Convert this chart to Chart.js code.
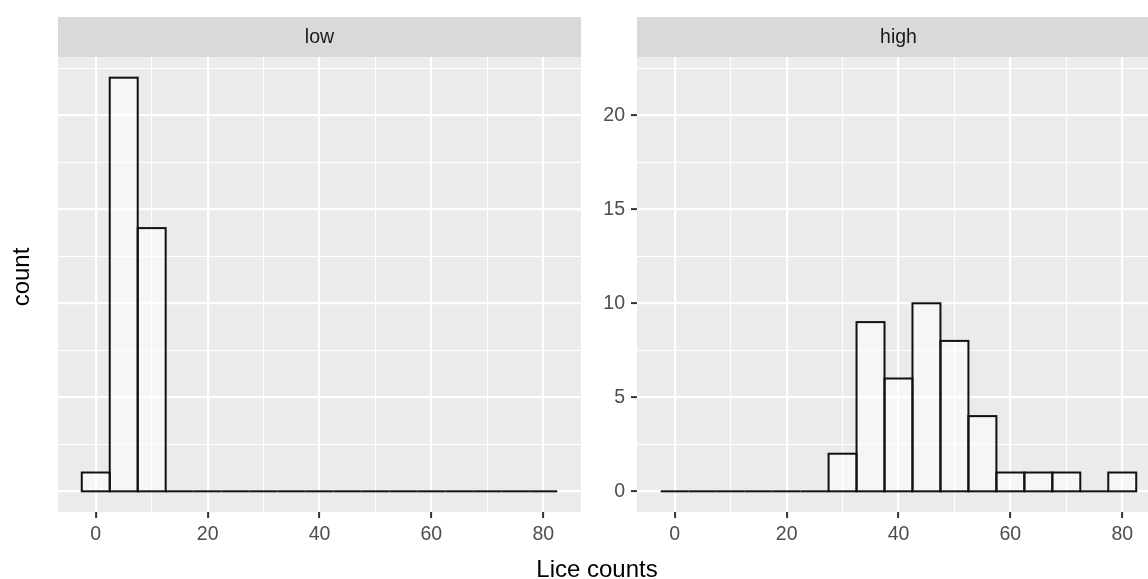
<!DOCTYPE html>
<html>
<head>
<meta charset="utf-8">
<script src="https://cdn.jsdelivr.net/npm/chart.js@4/dist/chart.umd.min.js"></script>
<style>
  html, body { margin: 0; padding: 0; background: #fff; overflow: hidden; }
  body { width: 1148px; height: 579px; position: relative; font-family: "Liberation Sans", Arial, sans-serif; }
  canvas { position: absolute; top: 0; }
  #leftChart { left: 0; }
  #rightChart { left: 590px; }
  .axis-title { position: absolute; color: #000; font-size: 24px; line-height: 24px; white-space: nowrap; text-align: center; }
  #xTitle { left: 497px; top: 557px; width: 200px; }
  #yTitle { left: -29px; top: 265px; width: 100px; transform: rotate(-90deg); }
</style>
</head>
<body>
<canvas id="leftChart" width="590" height="579"></canvas>
<canvas id="rightChart" width="590" height="579"></canvas>
<div id="xTitle" class="axis-title">Lice counts</div>
<div id="yTitle" class="axis-title">count</div>
<script>
// Histogram of lice counts, faceted by group (bins of width 5)
const binCenters = [0, 5, 10, 15, 20, 25, 30, 35, 40, 45, 50, 55, 60, 65, 70, 75, 80];
const lowCounts  = [1, 22, 14, 0, 0, 0, 0, 0, 0, 0, 0, 0, 0, 0, 0, 0, 0];
const highCounts = [0, 0, 0, 0, 0, 0, 2, 9, 6, 10, 8, 4, 1, 1, 1, 0, 1];
const facetLabels = ['low', 'high'];
const xTickStep = 10;      // minor + major vertical grid
const xLabelStep = 20;     // labelled ticks
const yTickStep = 2.5;
const yLabelStep = 5;

const FONT = '"Liberation Sans", Arial, sans-serif';

// grey panel background + facet strip on top
const panelPlugin = {
    id: 'panel',
    beforeDraw: function (chart, args, opts) {
        const ctx = chart.ctx;
        const a = chart.chartArea;
        ctx.save();
        ctx.fillStyle = '#ebebeb';
        ctx.fillRect(a.left, a.top, a.right - a.left, a.bottom - a.top);
        ctx.fillStyle = '#d9d9d9';
        ctx.fillRect(a.left, 17, a.right - a.left, a.top - 17);
        ctx.fillStyle = '#1a1a1a';
        ctx.font = '19.5px ' + FONT;
        ctx.textAlign = 'center';
        ctx.textBaseline = 'middle';
        ctx.fillText(opts.text, (a.left + a.right) / 2, (17 + a.top) / 2 + 1);
        ctx.restore();
    }
};

// ggplot-style outlines around each histogram bar (zero bins become a flat line)
const outlinePlugin = {
    id: 'outline',
    afterDatasetsDraw: function (chart) {
        const ctx = chart.ctx;
        const yScale = chart.scales.y;
        const ds = chart.data.datasets[0];
        const yBase = yScale.getPixelForValue(0);
        ctx.save();
        ctx.strokeStyle = '#111';
        ctx.lineWidth = 2;
        ctx.lineJoin = 'miter';
        chart.getDatasetMeta(0).data.forEach(function (bar, i) {
            const p = bar.getProps(['x', 'width'], true);
            const left = p.x - p.width / 2;
            const value = ds.data[i].y;
            if (value === 0) {
                ctx.beginPath();
                ctx.moveTo(left, yBase);
                ctx.lineTo(left + p.width, yBase);
                ctx.stroke();
            } else {
                const yTop = yScale.getPixelForValue(value);
                ctx.strokeRect(left, yTop, p.width, yBase - yTop);
            }
        });
        ctx.restore();
    }
};

function makeChart(canvasId, label, counts, showYLabels, axisWidth, rightPad) {
    const ctx = document.getElementById(canvasId).getContext('2d');
    return new Chart(ctx, {
        type: 'bar',
        data: {
            datasets: [{
                data: binCenters.map(function (c, i) { return { x: c, y: counts[i] }; }),
                backgroundColor: 'rgba(255, 255, 255, 0.55)',
                borderWidth: 0,
                barPercentage: 1,
                categoryPercentage: 1
            }]
        },
        options: {
            responsive: false,
            animation: false,
            layout: { padding: { top: 57, right: rightPad, bottom: 0, left: 0 } },
            scales: {
                x: {
                    type: 'linear',
                    min: -6.75,
                    max: 86.75,
                    offset: false,
                    border: { display: false },
                    grid: {
                        offset: false,
                        color: '#ffffff',
                        lineWidth: function (c) { return c.tick && c.tick.value % xLabelStep === 0 ? 2.2 : 1.1; },
                        tickLength: 6,
                        tickWidth: 2,
                        tickColor: function (c) { return c.tick && c.tick.value % xLabelStep === 0 ? '#333333' : 'rgba(0,0,0,0)'; }
                    },
                    ticks: {
                        stepSize: xTickStep,
                        includeBounds: false,
                        autoSkip: false,
                        maxRotation: 0,
                        padding: 5,
                        color: '#4d4d4d',
                        font: { family: FONT, size: 19.5 },
                        callback: function (v) { return v % xLabelStep === 0 ? String(v) : ''; }
                    },
                    afterFit: function (s) { s.height = 67; }
                },
                y: {
                    type: 'linear',
                    min: -1.1,
                    max: 23.1,
                    border: { display: false },
                    grid: {
                        color: '#ffffff',
                        lineWidth: function (c) { return c.tick && c.tick.value % yLabelStep === 0 ? 2.2 : 1.1; },
                        drawTicks: showYLabels,
                        tickLength: 6,
                        tickWidth: 2,
                        tickColor: function (c) { return c.tick && c.tick.value % yLabelStep === 0 ? '#333333' : 'rgba(0,0,0,0)'; }
                    },
                    ticks: {
                        display: showYLabels,
                        stepSize: yTickStep,
                        includeBounds: false,
                        autoSkip: false,
                        padding: 6,
                        color: '#4d4d4d',
                        font: { family: FONT, size: 19.5 },
                        callback: function (v) { return v % yLabelStep === 0 ? String(v) : ''; }
                    },
                    afterFit: function (s) { s.width = axisWidth; }
                }
            },
            plugins: {
                legend: { display: false },
                tooltip: { enabled: false },
                panel: { text: label }
            }
        },
        plugins: [panelPlugin, outlinePlugin]
    });
}

makeChart('leftChart', facetLabels[0], lowCounts, false, 58, 9);
makeChart('rightChart', facetLabels[1], highCounts, true, 47, 20);
</script>
</body>
</html>
